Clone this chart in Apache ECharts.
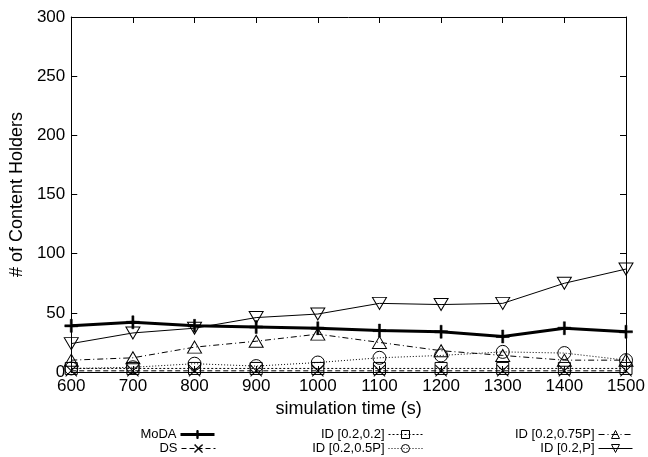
<!DOCTYPE html>
<html>
<head>
<meta charset="utf-8">
<script src="https://cdn.jsdelivr.net/npm/echarts@6/dist/echarts.min.js"></script>
<style>
html,body{margin:0;padding:0;background:#fff;}
#chart{width:648px;height:457px;}
</style>
</head>
<body>
<div id="chart"></div>
<script>
// ---- data ----
var times = [600, 700, 800, 900, 1000, 1100, 1200, 1300, 1400, 1500];
var moda    = [39, 42, 39, 38, 37, 35, 34, 30, 37, 34];
var ds      = [1, 1, 1, 1, 1, 1, 1, 1, 1, 1];
var id02    = [3, 3, 3, 3, 3, 3, 3, 3, 3, 3];
var id05P   = [3, 4, 7, 5, 8, 12, 14, 17, 16, 10];
var id075P  = [10, 12, 21, 26, 32, 25, 18, 14, 10, 10];
var idP     = [24, 33, 37, 46, 49, 58, 57, 58, 75, 87];
var seriesNames = ['MoDA', 'DS', 'ID [0.2,0.2]', 'ID [0.2,0.5P]', 'ID [0.2,0.75P]', 'ID [0.2,P]'];
var yTicks = [0, 50, 100, 150, 200, 250, 300];

function pairs(vals){ return times.map(function(t,i){ return [t, vals[i]]; }); }

var PLUS = 'path://M4.2,0H5.8V4.2H10V5.8H5.8V10H4.2V5.8H0V4.2H4.2Z';
var CROSS = 'path://M0.6,0L5,4.4L9.4,0L10,0.6L5.6,5L10,9.4L9.4,10L5,5.6L0.6,10L0,9.4L4.4,5L0,0.6Z';

var FONT = 'Liberation Sans';
var chart = echarts.init(document.getElementById('chart'), null, {renderer:'canvas'});

function mk(name, vals, opts){
  return Object.assign({
    name: name,
    type: 'line',
    data: pairs(vals),
    xAxisIndex: 0, yAxisIndex: 0,
    animation: false,
    silent: true,
    itemStyle: {color: 'rgba(255,255,255,0)', borderColor: '#000', borderWidth: 1},
    lineStyle: {color: '#000', width: 1, type: 'solid'}
  }, opts);
}

var series = [
  mk(seriesNames[0], moda, {symbol: PLUS, symbolSize: 13, lineStyle:{color:'#000', width:3}, itemStyle:{color:'#000', borderColor:'#000', borderWidth:0.5}, z: 10}),
  mk(seriesNames[1], ds, {symbol: CROSS, symbolSize: 12, lineStyle:{color:'#000', width:1, type:[5,3]}, itemStyle:{color:'#000', borderColor:'#000', borderWidth:0}}),
  mk(seriesNames[2], id02, {symbol: 'rect', symbolSize: 12, lineStyle:{color:'#000', width:1, type:[2,2]}}),
  mk(seriesNames[3], id05P, {symbol: 'circle', symbolSize: 13, lineStyle:{color:'#000', width:1, type:[1,2]}}),
  mk(seriesNames[4], id075P, {symbol: 'triangle', symbolSize: [14,12], lineStyle:{color:'#000', width:1, type:[6,3,1,3]}}),
  mk(seriesNames[5], idP, {symbol: 'triangle', symbolRotate: 180, symbolSize: [14,12], lineStyle:{color:'#000', width:1}})
];

function leg(name, right, top){
  return {
    data: [name], right: right, top: top, align: 'right', orient:'horizontal',
    itemWidth: 34, itemHeight: 10, itemGap: 0, padding: 0,
    selectedMode: false,
    itemStyle: {borderWidth: 1},
    lineStyle: {width: 'inherit'},
    textStyle: {fontFamily: FONT, fontSize: 13, color: '#000', padding:[0,-1,0,0]}
  };
}

var option = {
  backgroundColor: '#fff',
  animation: false,
  textStyle: {fontFamily: FONT},
  grid: {left: 69, right: 22, top: 17, bottom: 85, containLabel: false},
  legend: [
    leg(seriesNames[0], 432, 428),
    leg(seriesNames[1], 432, 442),
    leg(seriesNames[2], 225, 428),
    leg(seriesNames[3], 225, 442),
    leg(seriesNames[4], 15, 428),
    leg(seriesNames[5], 15, 442)
  ],
  xAxis: [{
    type: 'value', min: 600, max: 1500, interval: 100, position: 'bottom',
    name: 'simulation time (s)', nameLocation: 'middle', nameGap: 25,
    nameTextStyle: {fontFamily: FONT, fontSize: 18, color: '#000'},
    axisLine: {show: true, onZero: false, lineStyle: {color: '#000', width: 1}},
    axisTick: {show: true, inside: true, length: 6, lineStyle: {color: '#000'}},
    axisLabel: {show: true, margin: 6, fontFamily: FONT, fontSize: 17, color: '#000',
      formatter: function(v){ return String(v); }},
    splitLine: {show: false}
  },{
    type: 'value', min: 600, max: 1500, interval: 100, position: 'top',
    axisLine: {show: true, onZero: false, lineStyle: {color: '#000', width: 1}},
    axisTick: {show: true, inside: true, length: 6, lineStyle: {color: '#000'}},
    axisLabel: {show: false}, splitLine: {show: false}
  }],
  yAxis: [{
    type: 'value', min: 0, max: 300, interval: 50, position: 'left',
    name: '# of Content Holders', nameLocation: 'middle', nameGap: 43, nameRotate: 90,
    nameTextStyle: {fontFamily: FONT, fontSize: 18, color: '#000'},
    axisLine: {show: true, onZero: false, lineStyle: {color: '#000', width: 1}},
    axisTick: {show: true, inside: true, length: 6, lineStyle: {color: '#000'}},
    axisLabel: {show: true, margin: 6, fontFamily: FONT, fontSize: 17, color: '#000',
      formatter: function(v){ return yTicks.indexOf(v) >= 0 ? String(v) : ''; }},
    splitLine: {show: false}
  },{
    type: 'value', min: 0, max: 300, interval: 50, position: 'right',
    axisLine: {show: true, onZero: false, lineStyle: {color: '#000', width: 1}},
    axisTick: {show: true, inside: true, length: 6, lineStyle: {color: '#000'}},
    axisLabel: {show: false}, splitLine: {show: false}
  }],
  series: series
};
chart.setOption(option);
</script>
</body>
</html>
